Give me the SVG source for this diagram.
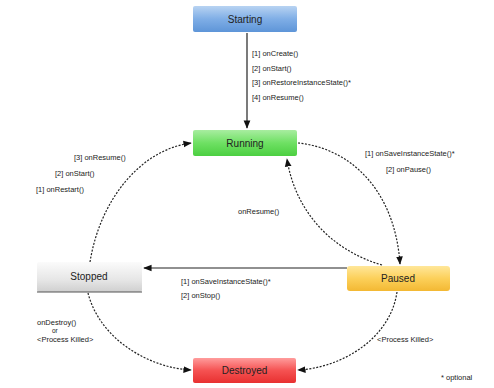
<svg xmlns="http://www.w3.org/2000/svg" width="494" height="388" viewBox="0 0 494 388">
<style>
.box{stroke:none}
.bl{font-family:"Liberation Sans",Arial,sans-serif;font-size:10px;fill:#222;text-anchor:middle}
.lb{font-family:"Liberation Sans",Arial,sans-serif;font-size:7.5px;fill:#222}
.sm{font-family:"Liberation Sans",Arial,sans-serif;font-size:6.5px;fill:#222}
.solid{fill:none;stroke:#222;stroke-width:1.2}
.dash{fill:none;stroke:#222;stroke-width:1.2;stroke-dasharray:2,1.5}
</style>
<defs>
<linearGradient id="gBlue" x1="0" y1="0" x2="0" y2="1"><stop offset="0" stop-color="#b8d3f2"/><stop offset="0.5" stop-color="#7faee6"/><stop offset="1" stop-color="#5e95d8"/></linearGradient>
<linearGradient id="gGreen" x1="0" y1="0" x2="0" y2="1"><stop offset="0" stop-color="#a8eda0"/><stop offset="0.5" stop-color="#6ee063"/><stop offset="1" stop-color="#4ccf41"/></linearGradient>
<linearGradient id="gGray" x1="0" y1="0" x2="0" y2="1"><stop offset="0" stop-color="#fbfbfb"/><stop offset="0.6" stop-color="#e6e6e6"/><stop offset="1" stop-color="#cfcfcf"/></linearGradient>
<linearGradient id="gYellow" x1="0" y1="0" x2="0" y2="1"><stop offset="0" stop-color="#ffe79a"/><stop offset="0.5" stop-color="#fcd05a"/><stop offset="1" stop-color="#f3b833"/></linearGradient>
<linearGradient id="gRed" x1="0" y1="0" x2="0" y2="1"><stop offset="0" stop-color="#ff9c9c"/><stop offset="0.5" stop-color="#f55252"/><stop offset="1" stop-color="#e83030"/></linearGradient>
<marker id="ah" viewBox="0 0 10 10" refX="9" refY="5" markerWidth="7" markerHeight="7" orient="auto"><path d="M0,1 L10,5 L0,9 Z" fill="#111"/></marker>
</defs>

<g id="connectors">
<path class="solid" d="M247,33 L247,128" marker-end="url(#ah)"/>
<path class="dash" d="M298,143 C350,148 395,190 400,264" marker-end="url(#ah)"/>
<path class="dash" d="M382,265 C330,250 295,210 287,159" marker-end="url(#ah)"/>
<path class="solid" d="M347,268 L144,268" marker-end="url(#ah)"/>
<path class="dash" d="M90,262 C100,200 140,150 191,143" marker-end="url(#ah)"/>
<path class="dash" d="M88,293 C100,340 150,368 191,370" marker-end="url(#ah)"/>
<path class="dash" d="M397,292 C390,340 340,368 298,370" marker-end="url(#ah)"/>
</g>

<g id="starting"><rect class="box" x="193" y="6" width="104" height="26" rx="2" fill="url(#gBlue)"/><text class="bl" x="245" y="22.5">Starting</text></g>
<g id="running"><rect class="box" x="193" y="130" width="104" height="26" rx="2" fill="url(#gGreen)"/><text class="bl" x="245" y="146.5">Running</text></g>
<g id="stopped"><rect class="box" x="37" y="262" width="105" height="30" rx="2" fill="url(#gGray)" stroke="#bbb" stroke-width="0.6"/><line x1="37" y1="292" x2="142" y2="292" stroke="#555" stroke-width="1"/><text class="bl" x="89" y="280">Stopped</text></g>
<g id="paused"><rect class="box" x="347" y="266" width="103" height="25" rx="3" fill="url(#gYellow)"/><text class="bl" x="398" y="282">Paused</text></g>
<g id="destroyed"><rect class="box" x="193" y="358" width="103" height="25" rx="2" fill="url(#gRed)"/><text class="bl" x="244.5" y="374">Destroyed</text></g>

<g id="labels">
<text class="lb" x="252" y="56">[1] onCreate()</text>
<text class="lb" x="252" y="70.5">[2] onStart()</text>
<text class="lb" x="252" y="85">[3] onRestoreInstanceState()*</text>
<text class="lb" x="252" y="99.5">[4] onResume()</text>
<text class="lb" x="365" y="156">[1] onSaveInstanceState()*</text>
<text class="lb" x="386" y="172">[2] onPause()</text>
<text class="lb" x="238" y="214">onResume()</text>
<text class="lb" x="181" y="284">[1] onSaveInstanceState()*</text>
<text class="lb" x="181" y="298">[2] onStop()</text>
<text class="lb" x="74" y="160">[3] onResume()</text>
<text class="lb" x="55" y="176">[2] onStart()</text>
<text class="lb" x="36" y="192">[1] onRestart()</text>
<text class="lb" x="37" y="325">onDestroy()</text>
<text class="sm" x="52" y="333">or</text>
<text class="lb" x="37" y="342">&lt;Process Killed&gt;</text>
<text class="lb" x="377" y="342">&lt;Process Killed&gt;</text>
<text class="lb" x="441" y="380">* optional</text>
</g>
</svg>
